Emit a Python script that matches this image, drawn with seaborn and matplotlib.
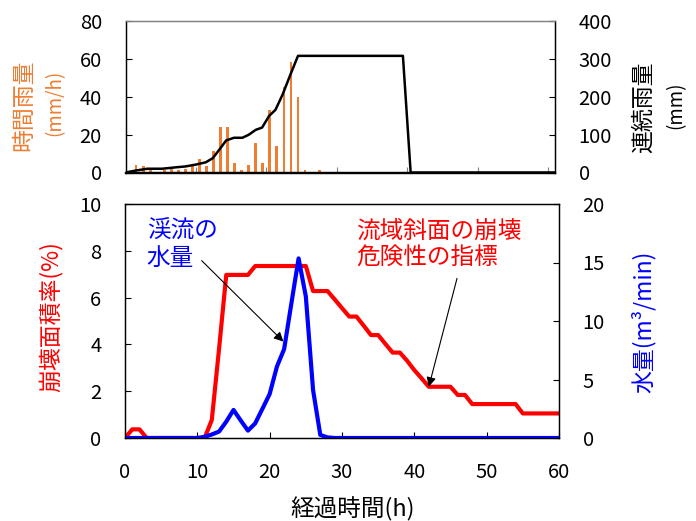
import matplotlib
matplotlib.use('Agg')
import matplotlib.pyplot as plt
import seaborn as sns

# hourly rainfall (mm/h), bar centres in hours
rain_hours = [1.5, 2.5, 3.5, 4.5, 5.5, 6.5, 7.5, 8.5, 9.5, 10.5, 11.5, 12.5, 13.5, 14.5,
              15.5, 16.5, 17.5, 18.5, 19.5, 20.5, 21.5, 22.5, 23.5, 24.5, 25.5, 26.5, 27.5]
rain_mm = [4.2, 3.2, 2.0, 0.0, 1.5, 2.0, 1.5, 2.0, 3.9, 7.2, 3.2, 11.3, 24.2, 24.2,
           4.9, 1.4, 4.2, 15.5, 4.9, 33.0, 14.3, 45.4, 58.3, 39.9, 1.4, 0.0, 1.4]

# continuous rainfall (mm)
cum_hours = [0, 1.4, 3.1, 5.2, 7.3, 8.5, 10.0, 11.4, 12.4, 13.3, 14.3, 15.4, 16.6, 17.5,
             18.5, 19.4, 20.4, 21.3, 22.3, 23.5, 24.5, 39.4, 40.5, 61]
cum_mm = [0, 5, 10, 10, 14, 16, 21, 27, 38, 60, 85, 92, 92, 100,
          113, 119, 150, 166, 206, 263, 309, 309, 0, 0]

# lower panel, hourly values 0..60 h
hours = list(range(61))
collapse_pct = [0, 0.37, 0.37, 0, 0, 0, 0, 0, 0, 0, 0, 0, 0.77, 3.8,
                6.97, 6.97, 6.97, 6.97, 7.35, 7.35, 7.35, 7.35, 7.35, 7.35, 7.35, 7.35,
                6.28, 6.28, 6.28, 5.92, 5.55, 5.19, 5.19, 4.8, 4.4, 4.4, 4.02, 3.65, 3.65,
                3.3, 2.9, 2.55, 2.19, 2.19, 2.19, 2.19, 1.84, 1.84,
                1.45, 1.45, 1.45, 1.45, 1.45, 1.45, 1.45,
                1.05, 1.05, 1.05, 1.05, 1.05, 1.05]
flow = [0] * 11 + [0.1, 0.3, 0.55, 1.4, 2.4, 1.5, 0.63, 1.25, 2.5, 3.76, 6.1, 7.6,
                   11.5, 15.35, 12.1, 4.1, 0.26, 0.05] + [0] * 32

ORANGE = '#ED7D31'
RED = '#FF0000'
BLUE = '#0000FF'

sns.set_style('ticks')
plt.rcParams['font.family'] = ['Noto Sans CJK JP', 'DejaVu Sans']

W, H = 696, 521
fig = plt.figure(figsize=(W / 100, H / 100), dpi=100)
ax1 = fig.add_axes([125.5 / W, 1 - 172.5 / H, (555 - 125.5) / W, 151 / H])
ax2 = fig.add_axes([125 / W, 1 - 438 / H, 434 / W, 234 / H])

tick_kw = dict(direction='in', length=4, width=0.8, labelsize=14.5, pad=17, colors='black')

# ---- top panel ----
sns.barplot(x=rain_hours, y=rain_mm, native_scale=True, width=0.4, color=ORANGE,
            saturation=1, linewidth=0, ax=ax1, zorder=2)
ax1.set_xlim(0, 61)
ax1.set_ylim(0, 80)
ax1.set_yticks([0, 20, 40, 60, 80])
ax1.set_xticks([10, 20, 30, 40, 50, 60])
ax1.tick_params(axis='y', **tick_kw)
ax1.tick_params(axis='x', direction='in', length=4, width=0.8, colors='#808080',
                labelbottom=False)
ax1.set_xlabel('')
ax1.set_ylabel('')

ax1r = ax1.twinx()
sns.lineplot(x=cum_hours, y=cum_mm, color='black', lw=1.8, sort=False, ax=ax1r)
ax1r.set_ylim(0, 400)
ax1r.set_yticks([0, 100, 200, 300, 400])
ax1r.tick_params(axis='y', **tick_kw)
ax1r.set_ylabel('')
for a in (ax1, ax1r):
    for s in a.spines.values():
        s.set_linewidth(0.9)
        s.set_color('black')
    a.spines['top'].set_color('#808080')
    a.spines['bottom'].set_linewidth(1.6)

# ---- bottom panel ----
sns.lineplot(x=hours, y=collapse_pct, color=RED, lw=3, ax=ax2)
ax2.set_xlim(0, 60)
ax2.set_ylim(0, 10)
ax2.set_xticks([0, 10, 20, 30, 40, 50, 60])
ax2.set_yticks([0, 2, 4, 6, 8, 10])
ax2.tick_params(axis='both', **tick_kw)
ax2.set_ylabel('')

ax2r = ax2.twinx()
sns.lineplot(x=hours, y=flow, color=BLUE, lw=3, ax=ax2r)
ax2r.set_ylim(0, 20)
ax2r.set_yticks([0, 5, 10, 15, 20])
ax2r.tick_params(axis='y', **tick_kw)
ax2r.set_ylabel('')
for a in (ax2, ax2r):
    for s in a.spines.values():
        s.set_linewidth(0.9)
        s.set_color('black')

# annotations
ax2.text(3.0, 9.32, '渓流の\n水量', color=BLUE, fontsize=17, ha='left', va='top',
         linespacing=1.2)
ax2.annotate('', xy=(21.9, 4.12), xytext=(10.6, 7.58),
             arrowprops=dict(arrowstyle='-|>', color='black', lw=0.8,
                             mutation_scale=14, shrinkA=0, shrinkB=0))
ax2.text(32.0, 9.32, '流域斜面の崩壊\n危険性の指標', color=RED, fontsize=17, ha='left',
         va='top', linespacing=1.2)
ax2.annotate('', xy=(42.0, 2.19), xytext=(45.9, 6.82),
             arrowprops=dict(arrowstyle='-|>', color='black', lw=0.8,
                             mutation_scale=14, shrinkA=0, shrinkB=0))

# axis labels
fig.text(24 / W, 1 - 105 / H, '時間雨量', color=ORANGE, fontsize=16.5, rotation=90,
         ha='center', va='center')
fig.text(55 / W, 1 - 103 / H, '(mm/h)', color=ORANGE, fontsize=13.5, rotation=90,
         ha='center', va='center')
fig.text(643 / W, 1 - 107 / H, '連続雨量', color='black', fontsize=16.5, rotation=90,
         ha='center', va='center')
fig.text(676 / W, 1 - 105 / H, '(mm)', color='black', fontsize=13.5, rotation=90,
         ha='center', va='center')
fig.text(52 / W, 1 - 317 / H, '崩壊面積率(%)', color=RED, fontsize=16.5, rotation=90,
         ha='center', va='center')
fig.text(643 / W, 1 - 322 / H, '水量(m³/min)', color=BLUE, fontsize=16.5, rotation=90,
         ha='center', va='center')
fig.text(353 / W, 1 - 509 / H, '経過時間(h)', color='black', fontsize=17,
         ha='center', va='center')

fig.savefig('out.png', dpi=100)
